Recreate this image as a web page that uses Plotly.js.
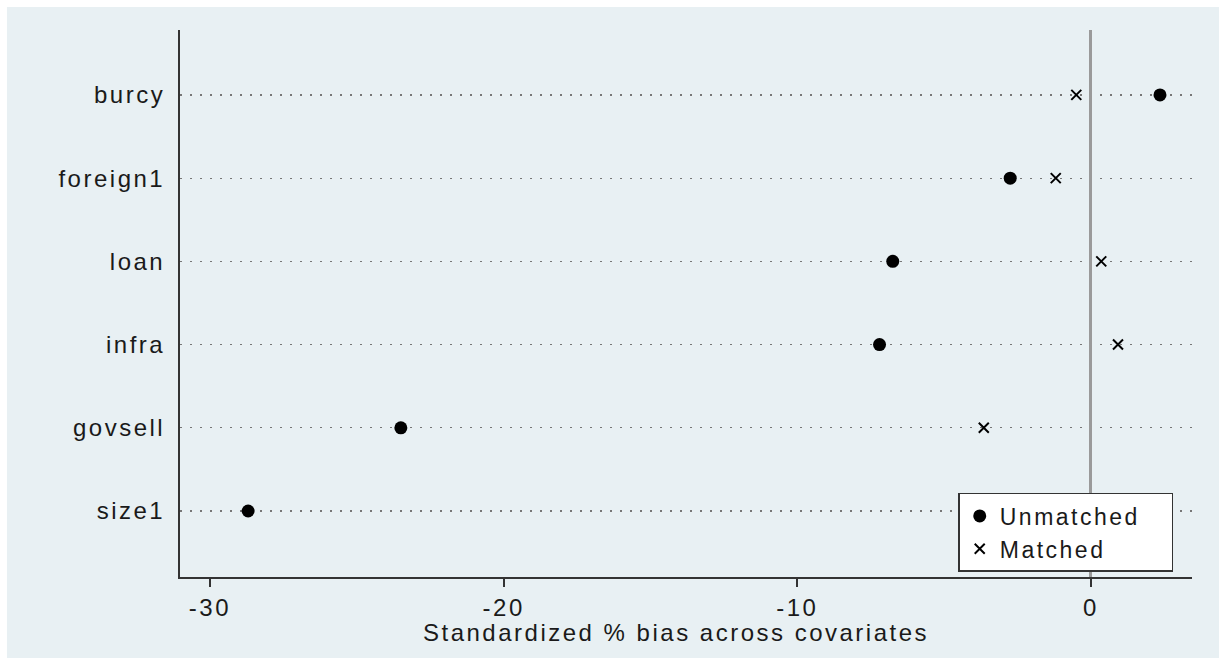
<!DOCTYPE html>
<html>
<head>
<meta charset="utf-8">
<script src="https://cdn.plot.ly/plotly-3.0.1.min.js"></script>
<style>
html,body{margin:0;padding:0;background:#fff;}
svg text{letter-spacing:2.5px;}
</style>
</head>
<body>
<div id="chart" style="width:1219px;height:659px;"></div>
<script>
// Covariates (bottom to top)
var covariates = ["size1", "govsell", "infra", "loan", "foreign1", "burcy"];
var unmatched = [-28.7, -23.5, -7.2, -6.75, -2.75, 2.35];
var matched = [0.8, -3.65, 0.92, 0.35, -1.2, -0.5];
var xTicks = [-30, -20, -10, 0];
var xTitle = "Standardized % bias across covariates";

var ypos = covariates.map(function (_, i) { return i + 1; });

var traces = [
  {
    type: "scatter", mode: "markers", name: "Unmatched\u00a0\u00a0\u00a0",
    x: unmatched, y: ypos,
    marker: { symbol: "circle", size: 13, color: "#000" },
    cliponaxis: false
  },
  {
    type: "scatter", mode: "markers", name: "Matched",
    x: matched, y: ypos,
    marker: { symbol: "x-thin-open", size: 10, color: "#000", line: { color: "#000", width: 2 } },
    cliponaxis: false
  }
];

var font = "Liberation Sans, Arial, sans-serif";
var layout = {
  width: 1219, height: 659,
  margin: { l: 180, r: 27, t: 30, b: 82 },
  paper_bgcolor: "#ffffff",
  plot_bgcolor: "#ffffff",
  font: { family: font, size: 24, color: "#1a1a1a" },
  showlegend: true,
  legend: {
    x: 0.769, y: 0.1536, xanchor: "left", yanchor: "top",
    bgcolor: "#ffffff", bordercolor: "#333", borderwidth: 1.5,
    font: { family: font, size: 23, color: "#1a1a1a" },
    tracegroupgap: 0, itemwidth: 30
  },
  xaxis: {
    range: [-31.02, 3.44],
    tickvals: xTicks, ticktext: xTicks.map(String),
    ticks: "outside", ticklen: 8, tickwidth: 2, tickcolor: "#333",
    showline: true, linecolor: "#333", linewidth: 2,
    showgrid: false,
    zeroline: true, zerolinecolor: "#9a9a9a", zerolinewidth: 3,
    tickfont: { family: font, size: 24, color: "#1a1a1a" }
  },
  yaxis: {
    range: [0.207, 6.78],
    tickvals: ypos, ticktext: covariates,
    ticks: "", ticklabelstandoff: 8,
    showline: true, linecolor: "#333", linewidth: 2,
    showgrid: true, gridcolor: "#777", gridwidth: 1.2, griddash: "2px,8px",
    zeroline: false,
    tickfont: { family: font, size: 24, color: "#1a1a1a" }
  },
  annotations: [
    { text: xTitle, xref: "paper", yref: "paper", x: 0.49, y: -0.102,
      xanchor: "center", yanchor: "middle", showarrow: false,
      font: { family: font, size: 24, color: "#1a1a1a" } }
  ],
  shapes: [
    { type: "rect", xref: "paper", yref: "paper", layer: "below",
      x0: -0.171, x1: 1.03, y0: -0.148, y1: 1.042,
      fillcolor: "#e8f0f3", line: { width: 0 } }
  ]
};

Plotly.newPlot("chart", traces, layout, { displayModeBar: false, staticPlot: true });
</script>
</body>
</html>
